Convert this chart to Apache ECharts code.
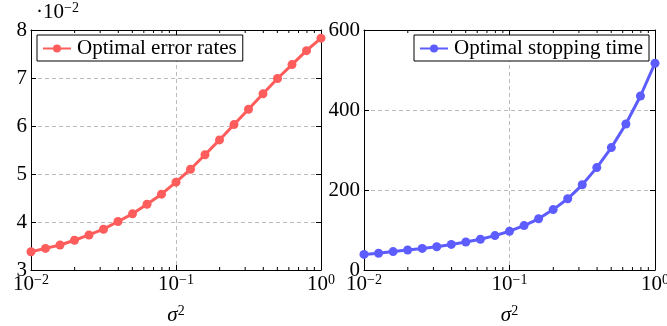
<!DOCTYPE html>
<html>
<head>
<meta charset="utf-8">
<script src="https://cdn.jsdelivr.net/npm/echarts@6/dist/echarts.min.js"></script>
<style>
html,body{margin:0;padding:0;background:#fff;}
#c{width:667px;height:326px;}
</style>
</head>
<body>
<div id="c"></div>
<script>
// ---- data ----
var sigma2 = [0.01, 0.01259, 0.01585, 0.01995, 0.02512, 0.03162, 0.03981, 0.05012, 0.0631, 0.07943,
              0.1, 0.1259, 0.1585, 0.1995, 0.2512, 0.3162, 0.3981, 0.5012, 0.631, 0.7943, 1.0];
var errorRates = [3.38, 3.45, 3.52, 3.62, 3.73, 3.85, 4.01, 4.17, 4.37, 4.58,
                  4.83, 5.10, 5.40, 5.71, 6.03, 6.35, 6.67, 6.99, 7.28, 7.57, 7.83];
var stoppingTime = [39, 42, 46, 50, 54, 58, 64, 70, 77, 86,
                    97, 111, 128, 151, 178, 213, 256, 306, 365, 435, 517];
var minorTicks = [0.02, 0.03, 0.04, 0.05, 0.06, 0.07, 0.08, 0.09, 0.2, 0.3, 0.4, 0.5, 0.6, 0.7, 0.8, 0.9];
var xTickExp = {0.01: '−2', 0.1: '−1', 1: '0'};
var legendNames = ['Optimal error rates', 'Optimal stopping time'];
var yLeftTicks = [3, 4, 5, 6, 7, 8];
var yRightTicks = [0, 200, 400, 600];

var SERIF = '"Liberation Serif","DejaVu Serif",serif';
var RED = '#ff5c5c', BLUE = '#5c5cff';
var FS = 21, FSS = 14;

function pairs(ys){ return sigma2.map(function(x,i){ return [x, ys[i]]; }); }

var supRich = {
  b: {fontFamily: SERIF, fontSize: FS, color: '#000', lineHeight: 22},
  s: {fontFamily: SERIF, fontSize: FSS, color: '#000', verticalAlign: 'top', lineHeight: 22, padding: [0,0,9,0]}
};

function xAxisMain(gi){
  return {
    type: 'log', logBase: 10, min: 0.01, max: 1, gridIndex: gi,
    axisLine: {show: true, onZero: false, lineStyle: {color: '#000', width: 1}},
    axisTick: {show: true, inside: true, length: 5, lineStyle: {color: '#000'}},
    splitLine: {show: true, lineStyle: {color: '#bbb', type: [4, 3], width: 1}},
    axisLabel: {
      margin: 3, showMaxLabel: true, showMinLabel: true, hideOverlap: false,
      formatter: function(v){ var e = xTickExp[v]; if (e === undefined) { var k = Math.round(Math.log10(v)); e = (k<0?'−':'') + Math.abs(k); } return '{b|10}{s|' + e + '}'; },
      rich: supRich
    },
    name: '{i|σ}{s|2}', nameLocation: 'middle', nameGap: 34,
    nameTextStyle: {rich: {
      i: {fontFamily: SERIF, fontStyle: 'italic', fontSize: FS, color: '#000', lineHeight: 22},
      s: {fontFamily: SERIF, fontSize: FSS, color: '#000', verticalAlign: 'top', lineHeight: 22, padding: [0,0,9,0]}
    }}
  };
}
function xAxisTop(gi){
  return {
    type: 'log', logBase: 10, min: 0.01, max: 1, gridIndex: gi, position: 'top',
    axisLine: {show: true, onZero: false, lineStyle: {color: '#000', width: 1}},
    axisTick: {show: true, inside: true, length: 5, lineStyle: {color: '#000'}},
    splitLine: {show: false}, axisLabel: {show: false}
  };
}
function yAxisMain(gi, min, max, interval){
  return {
    type: 'value', gridIndex: gi, min: min, max: max, interval: interval, position: 'left',
    axisLine: {show: true, onZero: false, lineStyle: {color: '#000', width: 1}},
    axisTick: {show: true, inside: true, length: 5, lineStyle: {color: '#000'}},
    splitLine: {show: true, lineStyle: {color: '#bbb', type: [4, 3], width: 1}},
    axisLabel: {fontFamily: SERIF, fontSize: FS, color: '#000', margin: 4, showMaxLabel: true, showMinLabel: true}
  };
}
function yAxisRight(gi, min, max, interval){
  return {
    type: 'value', gridIndex: gi, min: min, max: max, interval: interval, position: 'right',
    axisLine: {show: true, onZero: false, lineStyle: {color: '#000', width: 1}},
    axisTick: {show: true, inside: true, length: 5, lineStyle: {color: '#000'}},
    splitLine: {show: false}, axisLabel: {show: false}
  };
}
function minorTickSeries(xi, yi){
  return {
    type: 'custom', xAxisIndex: xi, yAxisIndex: yi, silent: true, z: 5,
    data: minorTicks.map(function(v){ return [v]; }),
    renderItem: function(params, api){
      var x = api.coord([api.value(0), 0])[0];
      var cs = params.coordSys;
      var top = cs.y, bot = cs.y + cs.height;
      return {type: 'group', children: [
        {type: 'line', shape: {x1: x, y1: bot, x2: x, y2: bot - 3}, style: {stroke: '#000', lineWidth: 1}},
        {type: 'line', shape: {x1: x, y1: top, x2: x, y2: top + 3}, style: {stroke: '#000', lineWidth: 1}}
      ]};
    }
  };
}

function legendCfg(name, pos){
  var c = {data: [name], top: 35, orient: 'vertical', backgroundColor: '#fff',
     borderColor: '#000', borderWidth: 1, borderRadius: 0, padding: [3, 6, 2, 5], itemWidth: 28, itemHeight: 10, itemGap: 4,
     textStyle: {fontFamily: SERIF, fontSize: FS, color: '#000', padding: [0,0,0,1]}};
  for (var k in pos) c[k] = pos[k];
  return c;
}

var chart = echarts.init(document.getElementById('c'), null, {renderer: 'canvas'});
chart.setOption({
  animation: false,
  backgroundColor: '#fff',
  grid: [
    {left: 31, top: 30, width: 290, height: 240, containLabel: false, outerBoundsMode: 'none'},
    {left: 364, top: 30, width: 291, height: 240, containLabel: false, outerBoundsMode: 'none'}
  ],
  xAxis: [xAxisMain(0), xAxisTop(0), xAxisMain(1), xAxisTop(1)],
  yAxis: [
    yAxisMain(0, yLeftTicks[0], yLeftTicks[yLeftTicks.length-1], 1),
    yAxisRight(0, yLeftTicks[0], yLeftTicks[yLeftTicks.length-1], 1),
    yAxisMain(1, yRightTicks[0], yRightTicks[yRightTicks.length-1], 200),
    yAxisRight(1, yRightTicks[0], yRightTicks[yRightTicks.length-1], 200)
  ],
  legend: [
    legendCfg(legendNames[0], {left: 37}),
    legendCfg(legendNames[1], {right: 18})
  ],
  graphic: [
    {type: 'text', left: 36, top: 1, style: {text: '{b|·10}{s|−2}', rich: {
      b: {fontFamily: SERIF, fontSize: FS, fill: '#000', lineHeight: 22},
      s: {fontFamily: SERIF, fontSize: FSS, fill: '#000', verticalAlign: 'top', lineHeight: 22, padding: [0,0,9,0]}}}}
  ],
  series: [
    {name: legendNames[0], type: 'line', xAxisIndex: 0, yAxisIndex: 0, data: pairs(errorRates),
     color: RED, lineStyle: {width: 3, color: RED}, symbol: 'circle', symbolSize: 9, itemStyle: {color: RED}, z: 3},
    {name: legendNames[1], type: 'line', xAxisIndex: 2, yAxisIndex: 2, data: pairs(stoppingTime),
     color: BLUE, lineStyle: {width: 3, color: BLUE}, symbol: 'circle', symbolSize: 9, itemStyle: {color: BLUE}, z: 3},
    minorTickSeries(0, 0),
    minorTickSeries(2, 2)
  ]
});
</script>
</body>
</html>
